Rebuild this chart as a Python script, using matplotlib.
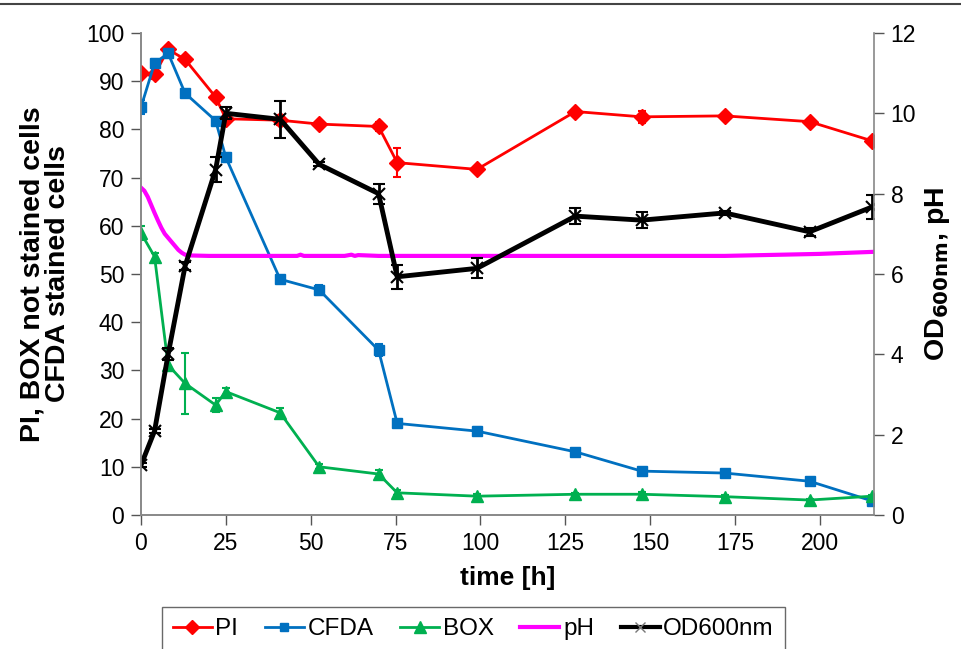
import matplotlib.pyplot as plt
from matplotlib.lines import Line2D

plt.rcParams['font.family'] = ['Liberation Sans', 'DejaVu Sans']

# sampling times [h]
time = [0, 4, 8, 13, 22, 25, 41, 52.5, 70, 75.5, 99, 128, 147.5, 172, 197, 215.5]

pi_vals = [91.6, 91.4, 96.6, 94.5, 86.7, 82.2, 81.9, 81.1, 80.6, 73.1, 71.7, 83.7, 82.6, 82.8, 81.6, 77.6]
pi_err = [1.0, 1.0, 0.8, 0.8, 0.8, 0.8, 1.0, 0.5, 1.0, 3.0, 0.5, 0.5, 1.2, 0.5, 0.5, 0.5]

cfda_vals = [84.6, 93.7, 95.8, 87.5, 81.8, 74.2, 48.9, 46.7, 34.2, 19.0, 17.4, 13.1, 9.1, 8.7, 7.0, 2.9]
cfda_err = [1.5, 0.8, 0.8, 0.5, 0.5, 1.0, 0.5, 1.0, 1.2, 0.5, 0.8, 0.4, 0.4, 0.4, 0.4, 0.4]

box_vals = [58.5, 53.6, 31.1, 27.3, 22.8, 25.6, 21.2, 10.0, 8.5, 4.6, 3.9, 4.3, 4.3, 3.8, 3.1, 3.9]
box_err = [1.5, 0.8, 1.0, 6.4, 1.5, 0.8, 1.0, 0.5, 0.8, 0.5, 0.5, 0.3, 0.5, 0.3, 0.3, 0.3]

od_vals = [1.24, 2.09, 4.0, 6.2, 8.6, 10.0, 9.85, 8.73, 8.0, 5.93, 6.14, 7.44, 7.34, 7.52, 7.05, 7.67]
od_err = [0.05, 0.05, 0.15, 0.1, 0.3, 0.15, 0.46, 0.05, 0.25, 0.3, 0.25, 0.2, 0.2, 0.05, 0.1, 0.3]

# pH was logged continuously
ph_time = [0, 1, 2, 3, 4, 5, 6, 7, 8, 9, 10, 11, 12, 13, 15, 20, 30, 46, 47, 48,
           60, 62, 63, 64, 70, 100, 150, 172, 200, 215.5]
ph_vals = [8.15, 8.07, 7.92, 7.72, 7.52, 7.33, 7.15, 7.0, 6.9, 6.8, 6.7, 6.6, 6.53, 6.48, 6.46,
           6.45, 6.45, 6.45, 6.48, 6.45, 6.45, 6.48, 6.45, 6.47, 6.45, 6.45, 6.45, 6.45, 6.5, 6.55]

fig = plt.figure(figsize=(9.61, 6.49), dpi=100)
ax = fig.add_axes([0.1467, 0.2065, 0.7628, 0.7427])
ax2 = ax.twinx()

ekw = dict(capsize=3, capthick=1.5, elinewidth=1.5)
ax.errorbar(time, pi_vals, yerr=pi_err, color='#ff0000', marker='D', ms=8, lw=2, zorder=3, **ekw)
ax.errorbar(time, cfda_vals, yerr=cfda_err, color='#0070c0', marker='s', ms=7, lw=2, zorder=3, **ekw)
ax.errorbar(time, box_vals, yerr=box_err, color='#00b050', marker='^', ms=9, lw=2, zorder=3, **ekw)
ax2.plot(ph_time, ph_vals, color='#ff00ff', lw=3)
ax2.errorbar(time, od_vals, yerr=od_err, color='black', marker='x', ms=9, mew=1.5, lw=3.5,
             capsize=4, capthick=2.5, elinewidth=2)

ax.set_xlim(0, 216)
ax.set_ylim(0, 100)
ax2.set_ylim(0, 12)
ax.set_xticks(range(0, 201, 25))
ax.set_yticks(range(0, 101, 10))
ax2.set_yticks(range(0, 13, 2))

for a in (ax, ax2):
    for s in a.spines.values():
        s.set_color('#888888')
        s.set_linewidth(1.2)
    a.spines['top'].set_visible(False)
    a.tick_params(direction='out', length=7, width=1, color='#555555', labelsize=16.5, pad=5)
ax.spines['right'].set_visible(False)

ax.set_xlabel('time [h]', fontsize=19, fontweight='bold', labelpad=8)
ax.set_ylabel('PI, BOX not stained cells\nCFDA stained cells', fontsize=20.5, fontweight='bold',
              linespacing=0.95, labelpad=11)
ax2.set_ylabel(r'OD$_{\mathbf{600nm}}$, pH', fontsize=20.5, fontweight='bold', labelpad=5)

# legend without error bars in the keys
handles = [
    Line2D([], [], color='#ff0000', marker='D', ms=7, lw=2),
    Line2D([], [], color='#0070c0', marker='s', ms=6, lw=2),
    Line2D([], [], color='#00b050', marker='^', ms=8, lw=2),
    Line2D([], [], color='#ff00ff', lw=3),
    Line2D([], [], color='black', marker='x', ms=7, mew=1, mec='#777777', lw=3),
]
labels = ['PI', 'CFDA', 'BOX', 'pH', 'OD600nm']
fig.legend(handles, labels, ncol=5, loc='lower center', bbox_to_anchor=(0.4925, -0.022),
           fontsize=17.5, frameon=True, fancybox=False, edgecolor='#444444',
           handlelength=1.6, handletextpad=0.15, columnspacing=1.1, borderpad=0.45)

# thin rule along the top
fig.add_artist(Line2D([0, 1], [0.994, 0.994], color='#444444', lw=1.5, transform=fig.transFigure))

fig.savefig('out.png', dpi=100)
